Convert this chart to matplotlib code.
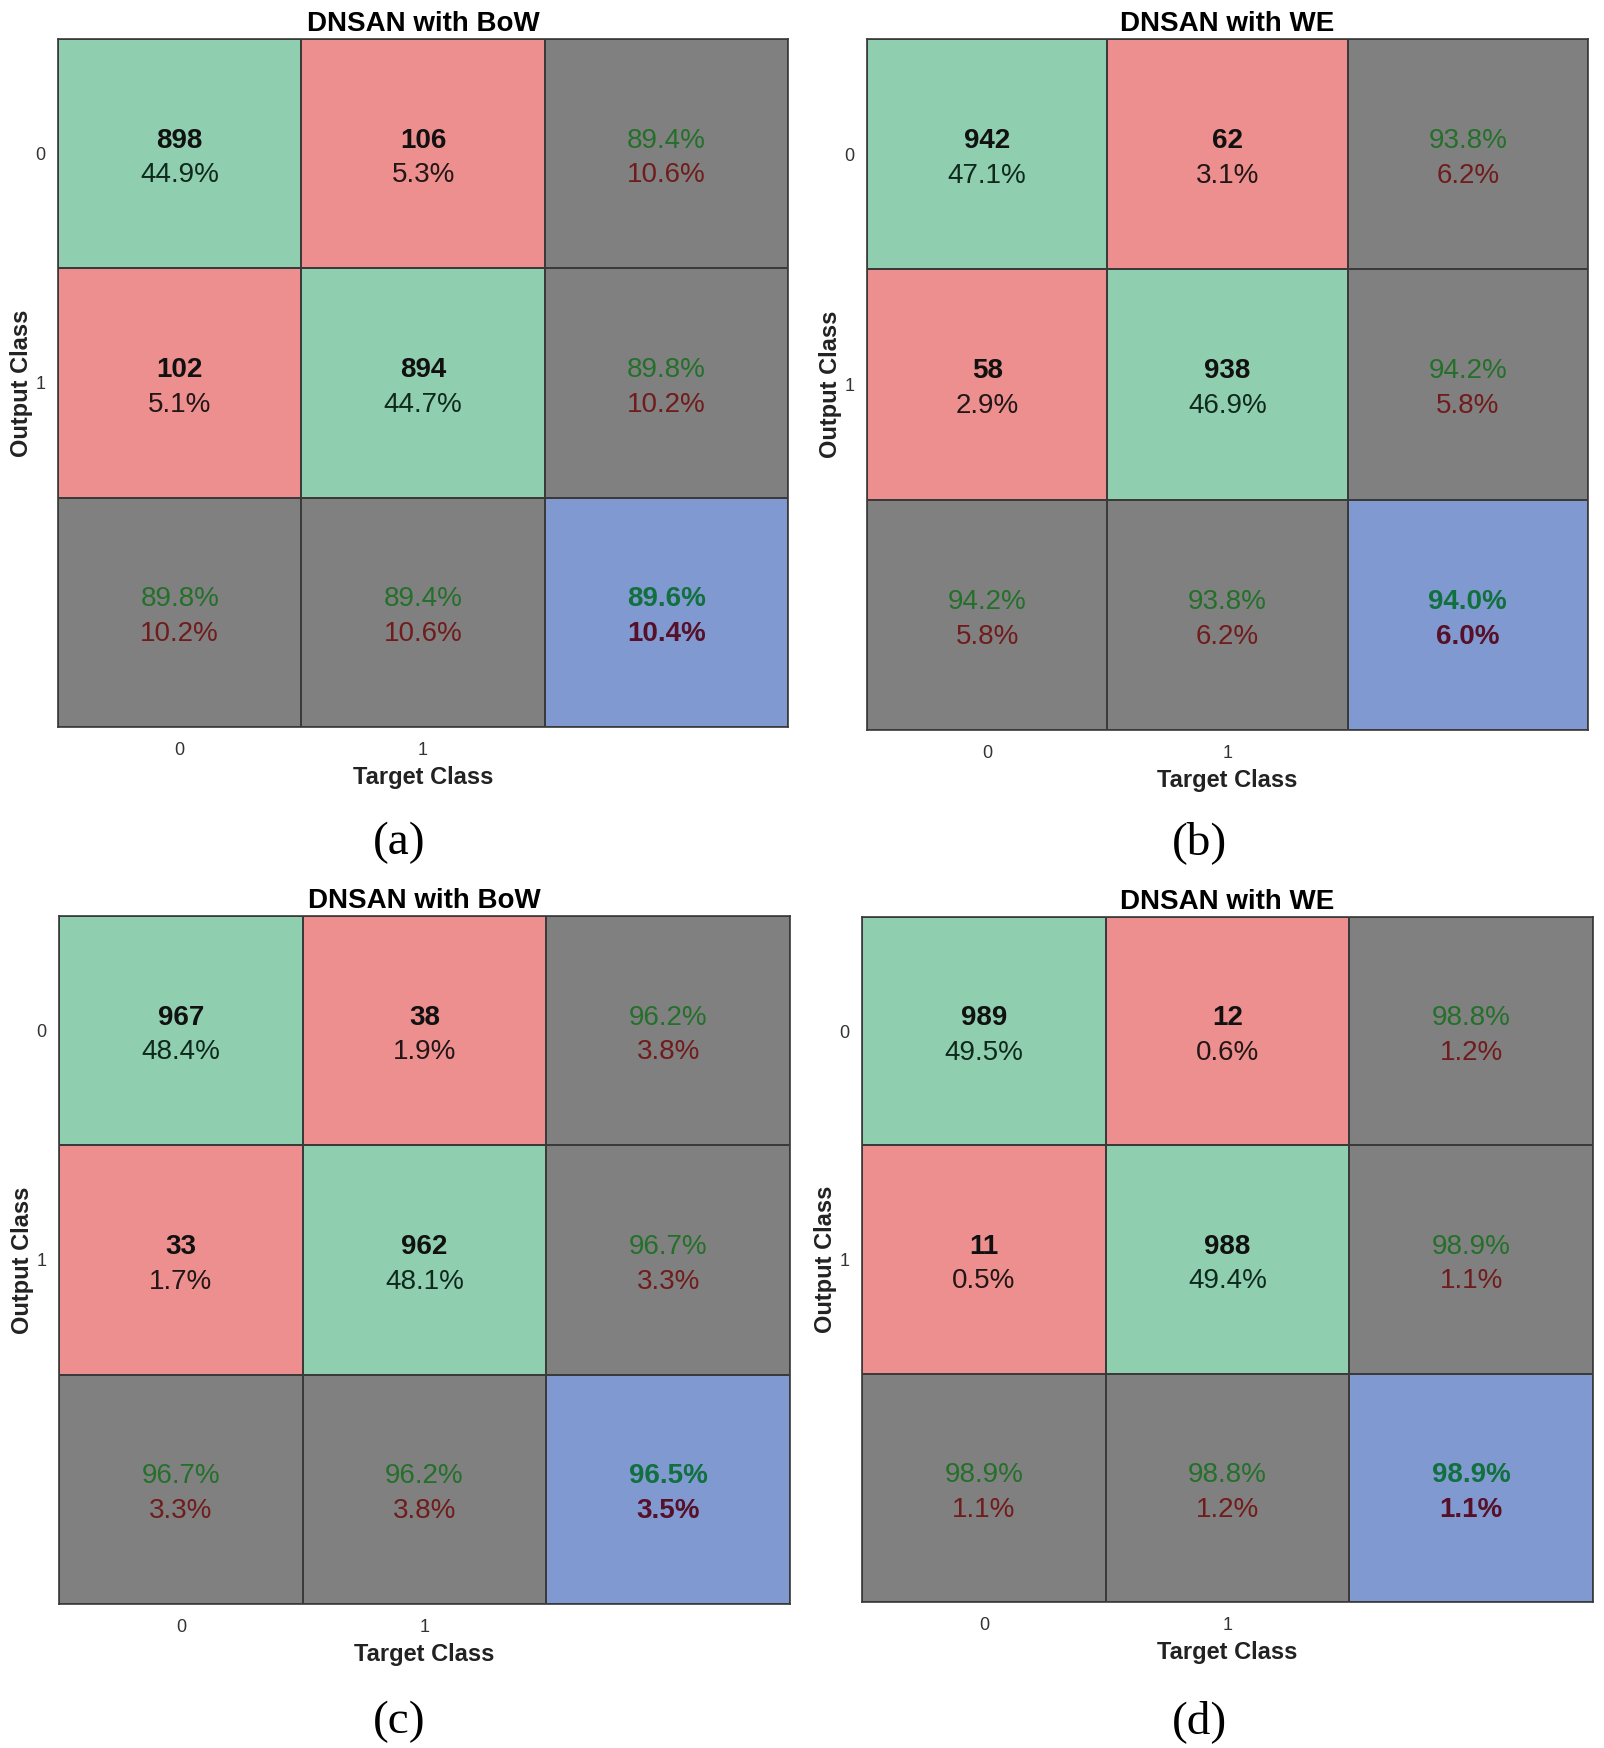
import matplotlib
matplotlib.use("Agg")
import matplotlib.pyplot as plt
import numpy as np
from matplotlib.colors import ListedColormap

plt.rcParams['font.family'] = ['Liberation Sans', 'DejaVu Sans']

# ---- data ----
titles = ["DNSAN with BoW", "DNSAN with WE", "DNSAN with BoW", "DNSAN with WE"]
panel_tags = ["(a)", "(b)", "(c)", "(d)"]
class_labels = ["0", "1"]

counts_a = [[898, 106], [102, 894]]
counts_b = [[942, 62], [58, 938]]
counts_c = [[967, 38], [33, 962]]
counts_d = [[989, 12], [11, 988]]

pct_a = [[44.9, 5.3], [5.1, 44.7]]
pct_b = [[47.1, 3.1], [2.9, 46.9]]
pct_c = [[48.4, 1.9], [1.7, 48.1]]
pct_d = [[49.5, 0.6], [0.5, 49.4]]

row_acc_a = [89.4, 89.8]
row_acc_b = [93.8, 94.2]
row_acc_c = [96.2, 96.7]
row_acc_d = [98.8, 98.9]

col_acc_a = [89.8, 89.4]
col_acc_b = [94.2, 93.8]
col_acc_c = [96.7, 96.2]
col_acc_d = [98.9, 98.8]

overall_acc = [89.6, 94.0, 96.5, 98.9]

all_counts = [counts_a, counts_b, counts_c, counts_d]
all_pct = [pct_a, pct_b, pct_c, pct_d]
all_row = [row_acc_a, row_acc_b, row_acc_c, row_acc_d]
all_col = [col_acc_a, col_acc_b, col_acc_c, col_acc_d]

# axes boxes in figure fractions [left, bottom, width, height]
boxes = [
    [0.0362, 0.5841, 0.4551, 0.3936],
    [0.5405, 0.5824, 0.4495, 0.3953],
    [0.0368, 0.0824, 0.4557, 0.3936],
    [0.5374, 0.0835, 0.4557, 0.3919],
]
tag_pos = [(0.2488, 0.5180), (0.7481, 0.5180), (0.2488, 0.0150), (0.7481, 0.0150)]

# 0 green, 1 red, 2 gray, 3 blue
cell_kind = np.array([[0, 1, 2], [1, 0, 2], [2, 2, 3]])
cmap = ListedColormap(["#8fcfb0", "#ec8f8e", "#808080", "#8099d1"])

GREEN_TXT = "#24702a"
RED_TXT = "#701c1c"
CELL_FS = 20
UP, DN = -0.057, 0.095

fig = plt.figure(figsize=(16.04, 17.48), dpi=100)

for k in range(4):
    ax = fig.add_axes(boxes[k])
    ax.pcolormesh(np.arange(4) - 0.5, np.arange(4) - 0.5, cell_kind,
                  cmap=cmap, vmin=-0.5, vmax=3.5,
                  edgecolors="#3a3a3a", linewidth=1.2)
    ax.set_xlim(-0.5, 2.5)
    ax.set_ylim(2.5, -0.5)

    counts = all_counts[k]
    pct = all_pct[k]
    for i in range(2):
        for j in range(2):
            pc = "#0f2a1c" if i == j else "#231616"
            ax.text(j, i + UP, str(counts[i][j]), ha="center", va="center",
                    fontsize=CELL_FS, fontweight="bold", color="#111111")
            ax.text(j, i + DN, "%.1f%%" % pct[i][j], ha="center", va="center",
                    fontsize=CELL_FS, color=pc)
        # row summary (right column)
        ax.text(2, i + UP, "%.1f%%" % all_row[k][i], ha="center", va="center",
                fontsize=CELL_FS, color=GREEN_TXT)
        ax.text(2, i + DN, "%.1f%%" % (100 - all_row[k][i]), ha="center",
                va="center", fontsize=CELL_FS, color=RED_TXT)
        # column summary (bottom row)
        ax.text(i, 2 + UP, "%.1f%%" % all_col[k][i], ha="center", va="center",
                fontsize=CELL_FS, color=GREEN_TXT)
        ax.text(i, 2 + DN, "%.1f%%" % (100 - all_col[k][i]), ha="center",
                va="center", fontsize=CELL_FS, color=RED_TXT)
    ax.text(2, 2 + UP, "%.1f%%" % overall_acc[k], ha="center", va="center",
            fontsize=CELL_FS, fontweight="bold", color="#11703e")
    ax.text(2, 2 + DN, "%.1f%%" % (100 - overall_acc[k]), ha="center",
            va="center", fontsize=CELL_FS, fontweight="bold", color="#561028")

    ax.set_xticks([0, 1])
    ax.set_xticklabels(class_labels)
    ax.set_yticks([0, 1])
    ax.set_yticklabels(class_labels)
    ax.tick_params(length=0, labelsize=13, labelcolor="#333333")
    ax.tick_params(axis="x", pad=11)
    ax.tick_params(axis="y", pad=9)
    for s in ax.spines.values():
        s.set_color("#3a3a3a")
        s.set_linewidth(1.2)

    ax.set_title(titles[k], fontsize=20, fontweight="bold", pad=6)
    ax.set_xlabel("Target Class", fontsize=17, fontweight="bold", labelpad=5,
                  color="#222222")
    ax.set_ylabel("Output Class", fontsize=17, fontweight="bold", labelpad=2,
                  color="#222222")

    fig.text(tag_pos[k][0], tag_pos[k][1], panel_tags[k], ha="center", va="center",
             fontsize=34, family="Liberation Serif")

fig.savefig("out.png", dpi=100, facecolor="white")
